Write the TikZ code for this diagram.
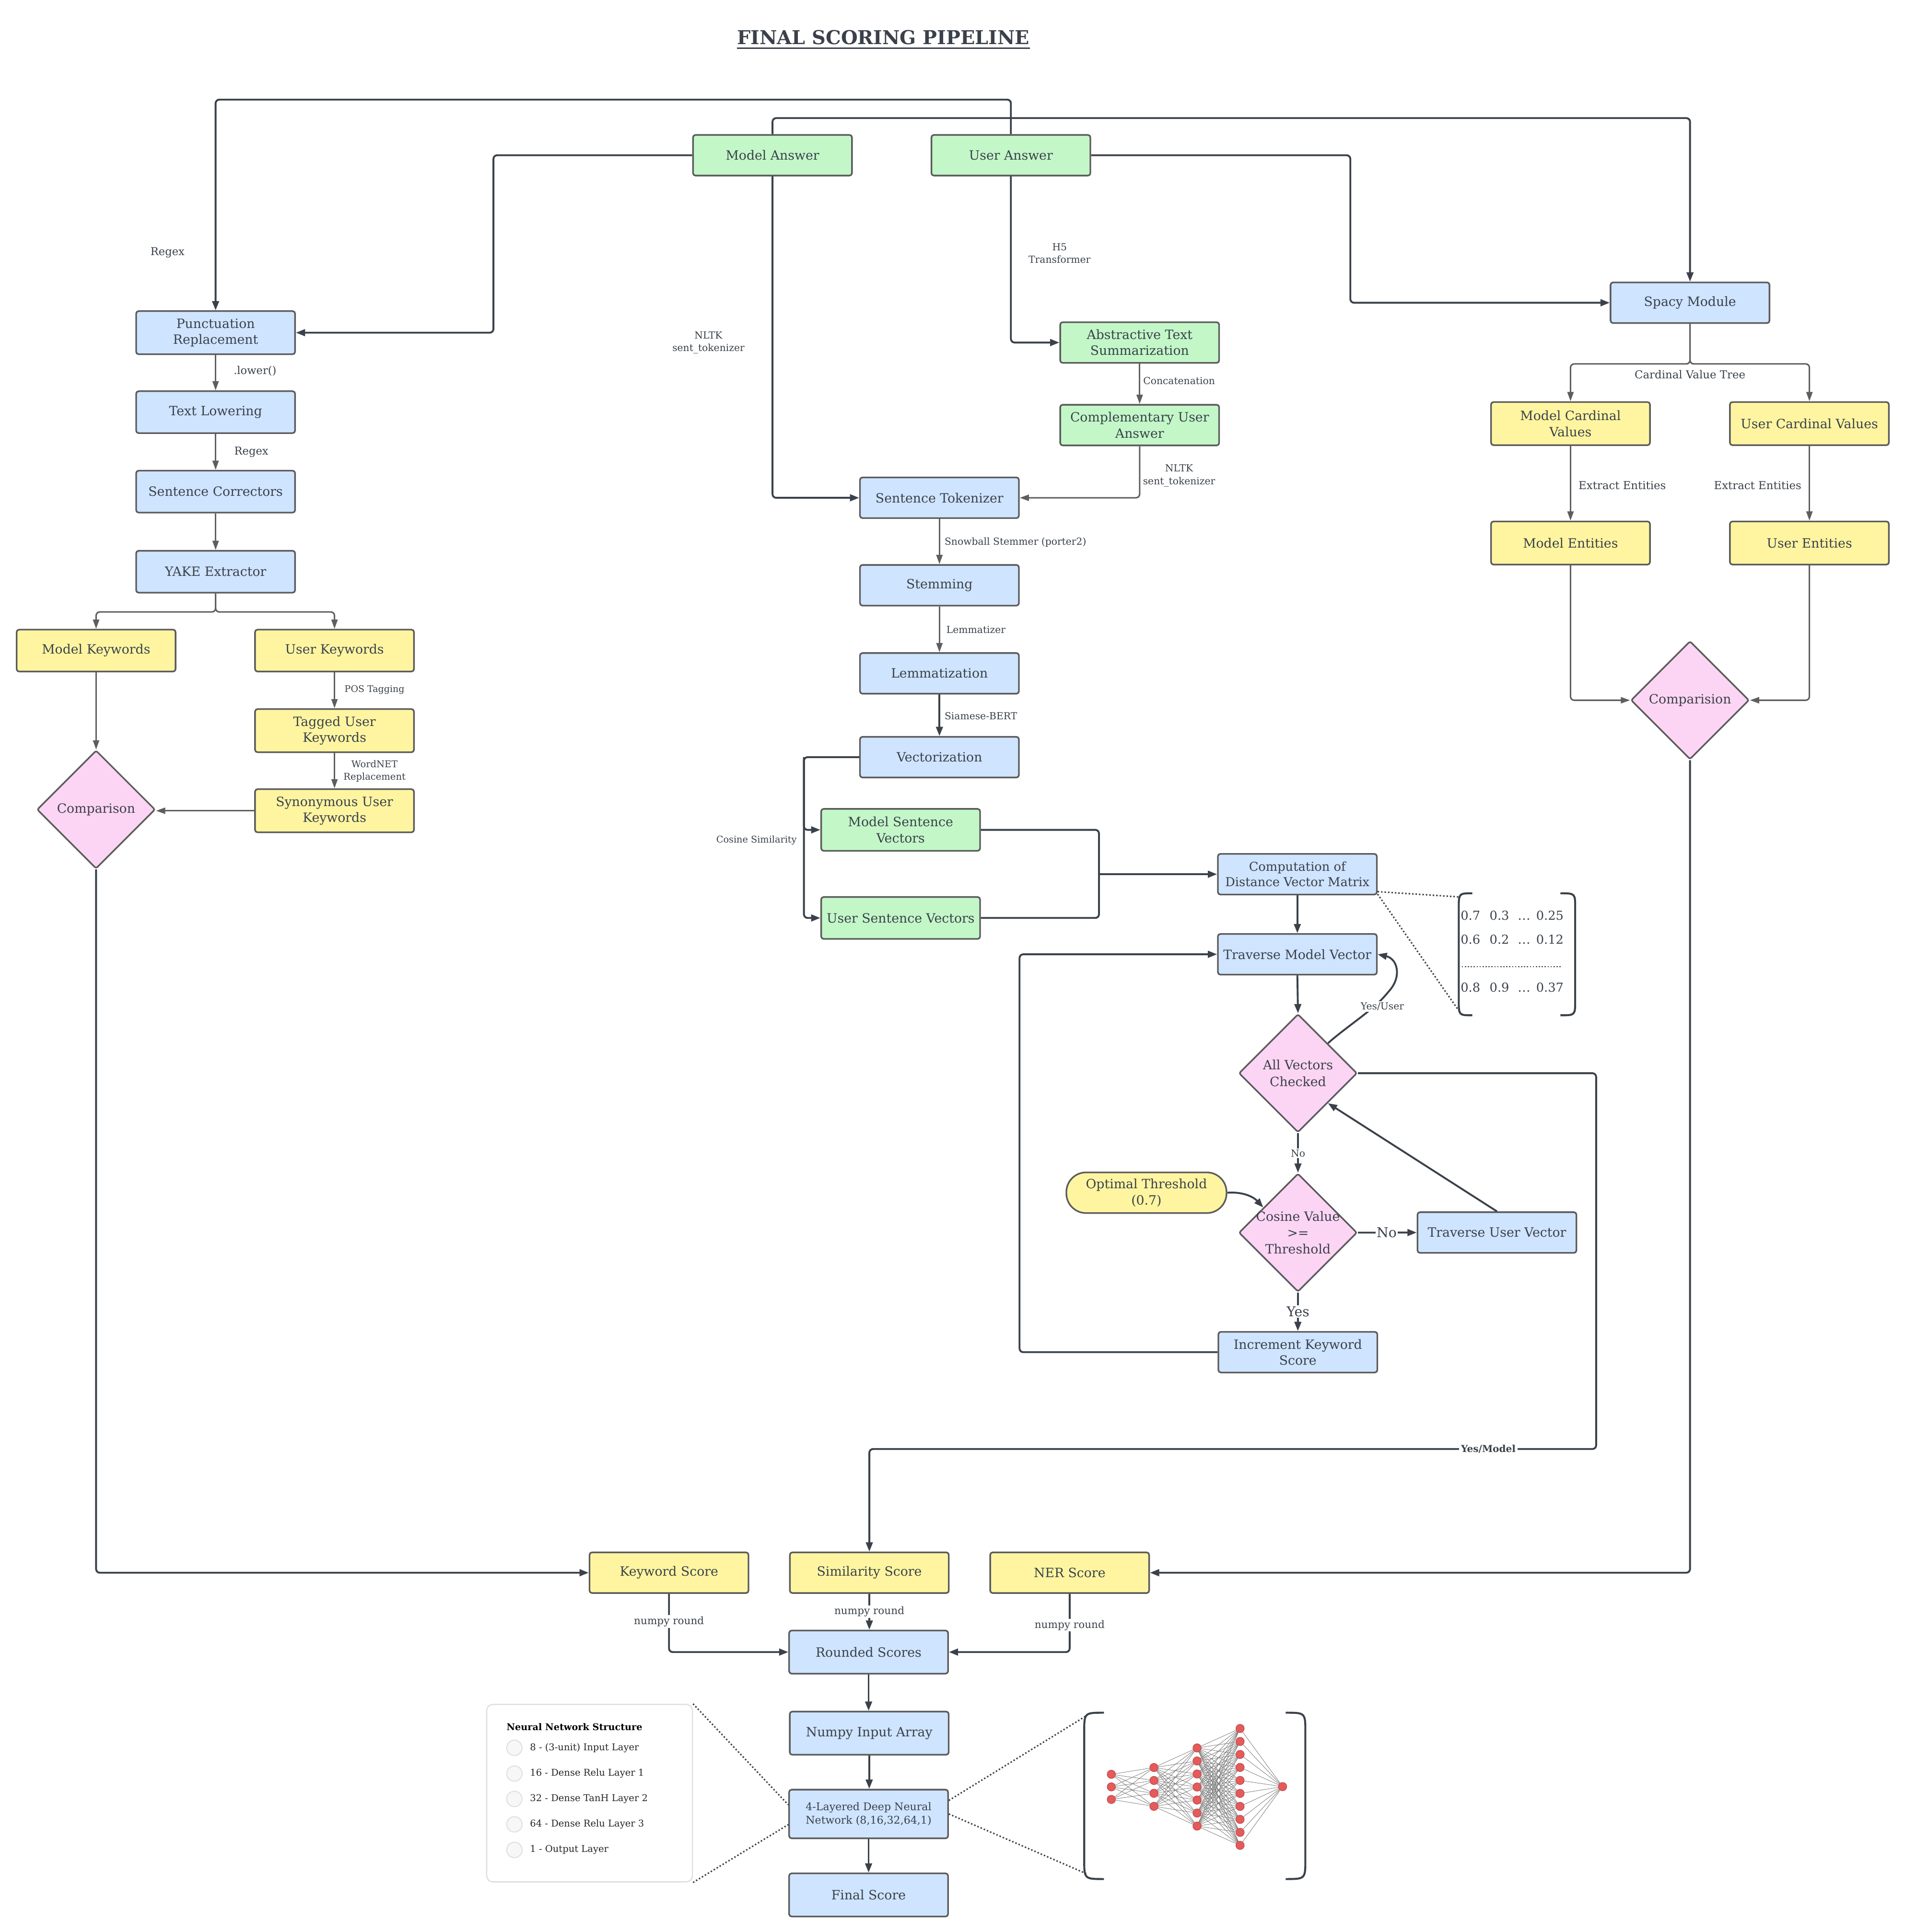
\documentclass[tikz,border=0pt]{standalone}
\usepackage{fontspec}
\setmainfont{DejaVu Serif}
\usetikzlibrary{arrows.meta,shapes.geometric,calc}
\definecolor{cblue}{HTML}{CFE4FF}
\definecolor{cgreen}{HTML}{C3F7C8}
\definecolor{cyellow}{HTML}{FFF5A1}
\definecolor{cpink}{HTML}{FDD5F4}
\definecolor{bord}{HTML}{5B5B5B}
\definecolor{dline}{HTML}{3A414A}
\definecolor{gline}{HTML}{5E5E5E}
\definecolor{txt}{HTML}{3A414A}
\definecolor{nnred}{HTML}{E55A5A}
\definecolor{nnredd}{HTML}{B94545}
\definecolor{nnedge}{HTML}{707070}
\definecolor{legbord}{HTML}{E0E0E0}
\begin{document}
\begin{tikzpicture}[x=1pt,y=-1pt,
  box/.style={draw=bord, line width=1.3pt, rounded corners=2pt, align=center, inner sep=1pt,
    minimum width=129pt, minimum height=33pt, text=txt, font=\fontsize{10.4}{13}\selectfont},
  bb/.style={box, fill=cblue},
  gb/.style={box, fill=cgreen},
  yb/.style={box, fill=cyellow},
  dec/.style={diamond, aspect=1, draw=bord, line width=1.3pt, fill=cpink, rounded corners=1.5pt,
    minimum width=96pt, minimum height=96pt, inner sep=-14pt, align=center, text=txt,
    font=\fontsize{10.4}{13.3}\selectfont},
  thr/.style={draw=bord, line width=1.3pt, rounded corners=16pt, fill=cyellow, minimum width=130pt,
    minimum height=33pt, align=center, text=txt, inner sep=1pt, font=\fontsize{10.4}{13}\selectfont},
  dk/.style={draw=dline, line width=1.5pt, rounded corners=3pt, -{Triangle[length=7.5pt,width=5.5pt]}},
  gr/.style={draw=gline, line width=1.2pt, rounded corners=3pt, -{Triangle[length=7.5pt,width=5pt]}},
  dkn/.style={draw=dline, line width=1.5pt, rounded corners=3pt},
  labs/.style={text=txt, align=center, inner sep=1pt, font=\fontsize{7.9}{10.3}\selectfont},
  labm/.style={text=txt, align=center, inner sep=1pt, font=\fontsize{8.8}{10.5}\selectfont},
  labr/.style={text=txt, align=center, inner sep=1pt, font=\fontsize{8.9}{10.5}\selectfont},
  labw/.style={labs, fill=white},
  labb/.style={text=txt, align=center, inner sep=1pt, fill=white, font=\fontsize{11}{13}\selectfont},
  dotl/.style={draw=dline, line width=1.2pt, dash pattern=on 1.2pt off 1.6pt},
  brk/.style={draw=dline, line width=1.6pt},
  nnode/.style={circle, fill=nnred, draw=nnredd, line width=0.4pt, minimum size=6.8pt, inner sep=0pt},
  nnline/.style={draw=nnedge, line width=0.3pt},
  mnum/.style={text=txt, inner sep=0pt, font=\fontsize{10}{12}\selectfont}
]
\useasboundingbox (0,0) rectangle (1546,1568);
\fill[white] (0,0) rectangle (1546,1568);

% title
\node[text=txt, font=\bfseries\fontsize{15.5}{17}\selectfont, inner sep=0pt, anchor=base] (title) at (717,36) {FINAL SCORING PIPELINE};
\draw[dline, line width=1.3pt] ($(title.base west)+(0,3.2)$) -- ($(title.base east)+(0,3.2)$);

% ---------- nodes ----------
\node[gb] (ma) at (627,126) {Model Answer};
\node[gb] (ua) at (820.5,126) {User Answer};

\node[bb, minimum height=35pt] (punct) at (175,270) {Punctuation\\Replacement};
\node[bb, minimum height=34pt] (lower) at (175,334.5) {Text Lowering};
\node[bb, minimum height=34pt] (corr) at (175,399) {Sentence Correctors};
\node[bb, minimum height=34pt] (yake) at (175,464) {YAKE Extractor};
\node[yb, minimum height=34pt] (mk) at (78,528) {Model Keywords};
\node[yb, minimum height=34pt] (uk) at (271.5,528) {User Keywords};
\node[yb, minimum height=35pt] (tuk) at (271.5,593) {Tagged User\\Keywords};
\node[yb, minimum height=35pt] (suk) at (271.5,658) {Synonymous User\\Keywords};
\node[dec] (cmpl) at (78,657) {Comparison};

\node[gb] (ats) at (925,278) {Abstractive Text\\Summarization};
\node[gb] (cua) at (925,345) {Complementary User\\Answer};
\node[bb] (tok) at (762.5,404) {Sentence Tokenizer};
\node[bb] (stem) at (762.5,475) {Stemming};
\node[bb] (lem) at (762.5,546.5) {Lemmatization};
\node[bb] (vec) at (762.5,614.5) {Vectorization};
\node[gb, minimum height=34pt] (msv) at (731,673.5) {Model Sentence\\Vectors};
\node[gb, minimum height=34pt] (usv) at (731,745) {User Sentence Vectors};
\node[bb, font=\fontsize{10}{12.5}\selectfont] (cdm) at (1053,709.5) {Computation of\\Distance Vector Matrix};
\node[bb] (tmv) at (1053,774.5) {Traverse Model Vector};
\node[dec] (avc) at (1053.5,871) {All Vectors\\Checked};
\node[dec] (cos) at (1053.5,1000.4) {Cosine Value\\>=\\Threshold};
\node[thr] (opt) at (930.5,968) {Optimal Threshold\\(0.7)};
\node[bb] (tuv) at (1215,1000.3) {Traverse User Vector};
\node[bb] (inc) at (1053.4,1097.4) {Increment Keyword\\Score};

\node[bb] (spacy) at (1371.7,245.7) {Spacy Module};
\node[yb, minimum height=35pt] (mcv) at (1274.7,343.8) {Model Cardinal\\Values};
\node[yb, minimum height=35pt] (ucv) at (1468.6,343.8) {User Cardinal Values};
\node[yb, minimum height=35pt] (me) at (1274.7,440.7) {Model Entities};
\node[yb, minimum height=35pt] (ue) at (1468.6,440.7) {User Entities};
\node[dec] (cmpr) at (1371.7,568.3) {Comparision};

\node[yb] (ks) at (543,1276.4) {Keyword Score};
\node[yb] (ss) at (705.6,1276.4) {Similarity Score};
\node[yb] (ns) at (868.2,1276.4) {NER Score};
\node[bb, minimum height=35pt] (rs) at (705,1340.8) {Rounded Scores};
\node[bb, minimum height=35pt] (nia) at (705.5,1406.6) {Numpy Input Array};
\node[bb, minimum height=39.5pt, font=\fontsize{8.6}{11}\selectfont] (dnn) at (705,1472.2) {4-Layered Deep Neural\\Network (8,16,32,64,1)};
\node[bb, minimum height=35pt] (fs) at (705,1537.9) {Final Score};

% ---------- connectors ----------
\draw[dk] (ua.north) -- ++(0,-28) -| (punct.north);
\draw[dk] (ma.west) -| (400.5,270) -- (punct.east);
\draw[dk] (ma.north) -- ++(0,-13) -| (spacy.north);
\draw[dk] (ua.east) -| (1096,245.7) -- (spacy.west);
\draw[dk] (ma.south) |- (tok.west);
\draw[dk] (ua.south) |- (ats.west);
\draw[gr] (ats.south) -- (cua.north);
\draw[gr] (cua.south) |- (tok.east);
\draw[gr] (tok.south) -- (stem.north);
\draw[gr] (stem.south) -- (lem.north);
\draw[dk] (lem.south) -- (vec.north);

\coordinate (vb) at (652.5,614.5);
\draw[dk] (vec.west) -- (vb) |- (msv.west);
\draw[dk] (vb) |- (usv.west);
\coordinate (mj) at (892,709.5);
\draw[dkn] (msv.east) -| (mj);
\draw[dkn] (usv.east) -| (mj);
\draw[dk] (mj) -- (cdm.west);
\draw[dk] (cdm.south) -- (tmv.north);
\draw[dk] (tmv.south) -- (avc.north);
\draw[dk] (avc.north east) .. controls (1092,834) and (1114,820) .. (1126,806) .. controls (1138,792) and (1134,778) .. (tmv.east);
\node[labs, fill=white] (lYU) at (1122,817) {Yes/User};
\draw[dk] (avc.south) -- (cos.north);
\node[labw] (lNo1) at (1053.5,936) {No};
\draw[dk] (opt.east) .. controls (1010,967) and (1018,972) .. ($(cos.west)!0.42!(cos.north)$);
\draw[dk] (cos.east) -- (tuv.west);
\node[labb] (lNo2) at (1125.5,1000.4) {No};
\draw[dk] (cos.south) -- (inc.north);
\node[labb] (lYes) at (1053.5,1064.5) {Yes};
\draw[dk] (tuv.north) -- (avc.south east);
\draw[dk] (inc.west) -| (827.5,900) |- (tmv.west);
\draw[dk] (avc.east) -| (1295.5,1176) -| (ss.north);
\node[text=txt, fill=white, inner sep=1.5pt, font=\bfseries\fontsize{7.8}{9}\selectfont] (lYM) at (1208,1176) {Yes/Model};

% left column
\draw[gr] (punct.south) -- (lower.north);
\draw[gr] (lower.south) -- (corr.north);
\draw[gr] (corr.south) -- (yake.north);
\draw[gr] (yake.south) -- ++(0,15) -| (mk.north);
\draw[gr] (yake.south) -- ++(0,15) -| (uk.north);
\draw[gr] (uk.south) -- (tuk.north);
\draw[gr] (tuk.south) -- (suk.north);
\draw[gr] (mk.south) -- (cmpl.north);
\draw[gr] (suk.west) -- (suk.west -| cmpl.east);
\draw[dk] (cmpl.south) |- (ks.west);

% right column
\draw[gr] (spacy.south) -- ++(0,32.5) -| (mcv.north);
\draw[gr] (spacy.south) -- ++(0,32.5) -| (ucv.north);
\draw[gr] (mcv.south) -- (me.north);
\draw[gr] (ucv.south) -- (ue.north);
\draw[gr] (me.south) |- (cmpr.west);
\draw[gr] (ue.south) |- (cmpr.east);
\draw[dk] (cmpr.south) |- (ns.east);

% scores
\draw[dk] (ks.south) |- (rs.west);
\draw[dk] (ss.south) -- (ss.south |- rs.north);
\draw[dk] (ns.south) |- (rs.east);
\draw[dk] (rs.south) -- (rs.south |- nia.north);
\draw[dk] (nia.south) -- (nia.south |- dnn.north);
\draw[dk] (dnn.south) -- (fs.north);
\node[labw, font=\fontsize{8.4}{10}\selectfont] (lNr1) at (543,1316) {numpy round};
\node[labw, font=\fontsize{8.4}{10}\selectfont] (lNr2) at (705.6,1308) {numpy round};
\node[labw, font=\fontsize{8.4}{10}\selectfont] (lNr3) at (868.2,1319) {numpy round};

% ---------- labels ----------
\node[labm] (lRegexA) at (136,205) {Regex};
\node[labm] (lLower) at (207,301) {.lower()};
\node[labm] (lRegexB) at (204,367) {Regex};
\node[labs, font=\fontsize{7.4}{10}\selectfont] (lPOS) at (304,560) {POS Tagging};
\node[labs, font=\fontsize{7.6}{10.1}\selectfont] (lWN) at (304,626) {WordNET\\Replacement};
\node[labs] (lNltkA) at (575,278) {NLTK\\sent\_tokenizer};
\node[labs] (lH5) at (860,205.5) {H5\\Transformer};
\node[labs] (lConc) at (957,309) {Concatenation};
\node[labs] (lNltkB) at (957,386) {NLTK\\sent\_tokenizer};
\node[labs, anchor=west] (lSnow) at (765.5,440) {Snowball Stemmer (porter2)};
\node[labs, anchor=west] (lLem) at (767,511) {Lemmatizer};
\node[labs, anchor=west] (lSia) at (765.5,581) {Siamese-BERT};
\node[labs, font=\fontsize{7.5}{9}\selectfont] (lCos) at (614,682) {Cosine Similarity};
\node[labr] (lCard) at (1371.7,304) {Cardinal Value Tree};
\node[labr] (lEx1) at (1316.7,394) {Extract Entities};
\node[labr] (lEx2) at (1426.6,394) {Extract Entities};

% ---------- matrix ----------
\draw[dotl] ($(cdm.south east)+(0,-3)$) -- (1185.5,728);
\draw[dotl] ($(cdm.south east)+(0,-1)$) -- (1183.5,819.5);
\draw[brk] (1195,725) .. controls (1184,725) .. (1184,737) -- (1184,812) .. controls (1184,824) .. (1195,824);
\draw[brk] (1266.5,725) .. controls (1278.5,725) .. (1278.5,737) -- (1278.5,812) .. controls (1278.5,824) .. (1266.5,824);
\foreach \rr/\yy/\va/\vb/\vc in {1/743/0.7/0.3/0.25, 2/762.5/0.6/0.2/0.12, 3/801.5/0.8/0.9/0.37} {
  \node[mnum] (mA\rr) at (1193.5,\yy) {\va};
  \node[mnum] (mB\rr) at (1217,\yy) {\vb};
  \node[mnum, anchor=base] (mC\rr) at (1237,\yy+3.6) {.\kern0.3pt.\kern0.3pt.};
  \node[mnum] (mD\rr) at (1258,\yy) {\vc};
}
\draw[dline, line width=1pt, dash pattern=on 1pt off 1.4pt] (1186.5,784.6) -- (1267,784.6);

% ---------- legend ----------
\node[draw=legbord, line width=1pt, rounded corners=5pt, minimum width=167pt, minimum height=144pt, inner sep=0pt] (leg) at (478.5,1455.3) {};
\node[anchor=west, inner sep=0pt, font=\bfseries\fontsize{7.5}{9}\selectfont] (legt) at (411,1401.5) {Neural Network Structure};
\foreach \yy/\lbl [count=\k] in {1418.5/{8 - (3-unit) Input Layer}, 1439.4/{16 - Dense Relu Layer 1}, 1460/{32 - Dense TanH Layer 2}, 1480.6/{64 - Dense Relu Layer 3}, 1501.4/{1 - Output Layer}} {
  \node[circle, draw=legbord, line width=0.8pt, fill=black!3, minimum size=12.5pt, inner sep=0pt] (lc\k) at (417.5,\yy) {};
  \node[anchor=west, inner sep=0pt, text=black!85, font=\fontsize{7.6}{9}\selectfont] (lt\k) at (430,\yy) {\lbl};
}
\draw[dotl] (leg.north east) -- ($(dnn.north west)+(0,13)$);
\draw[dotl] (leg.south east) -- ($(dnn.north west)+(0,29)$);
\draw[dotl] ($(dnn.east)+(0,-11)$) -- (882.5,1392);
\draw[dotl] (dnn.east) -- (882.5,1521);

% ---------- neural network ----------
\draw[brk] (896,1390) .. controls (880,1390) .. (880,1406) -- (880,1509) .. controls (880,1525) .. (896,1525);
\draw[brk] (1043.5,1390) .. controls (1059.5,1390) .. (1059.5,1406) -- (1059.5,1509) .. controls (1059.5,1525) .. (1043.5,1525);
\foreach \k/\yy in {1/1440,2/1450.2,3/1460.4} \node[nnode] (a\k) at (902,\yy) {};
\foreach \k/\yy in {1/1434.5,2/1445,3/1455.4,4/1466} \node[nnode] (b\k) at (936.6,\yy) {};
\foreach \k in {0,...,6} \node[nnode] (c\k) at (971.6,{1418.6+10.57*\k}) {};
\foreach \k in {0,...,9} \node[nnode] (d\k) at (1006.5,{1402.8+10.54*\k}) {};
\node[nnode] (e0) at (1041,1450) {};
\foreach \i in {1,2,3} \foreach \j in {1,...,4} \draw[nnline] (a\i) -- (b\j);
\foreach \i in {1,...,4} \foreach \j in {0,...,6} \draw[nnline] (b\i) -- (c\j);
\foreach \i in {0,...,6} \foreach \j in {0,...,9} \draw[nnline] (c\i) -- (d\j);
\foreach \j in {0,...,9} \draw[nnline] (d\j) -- (e0);
\end{tikzpicture}
\end{document}
